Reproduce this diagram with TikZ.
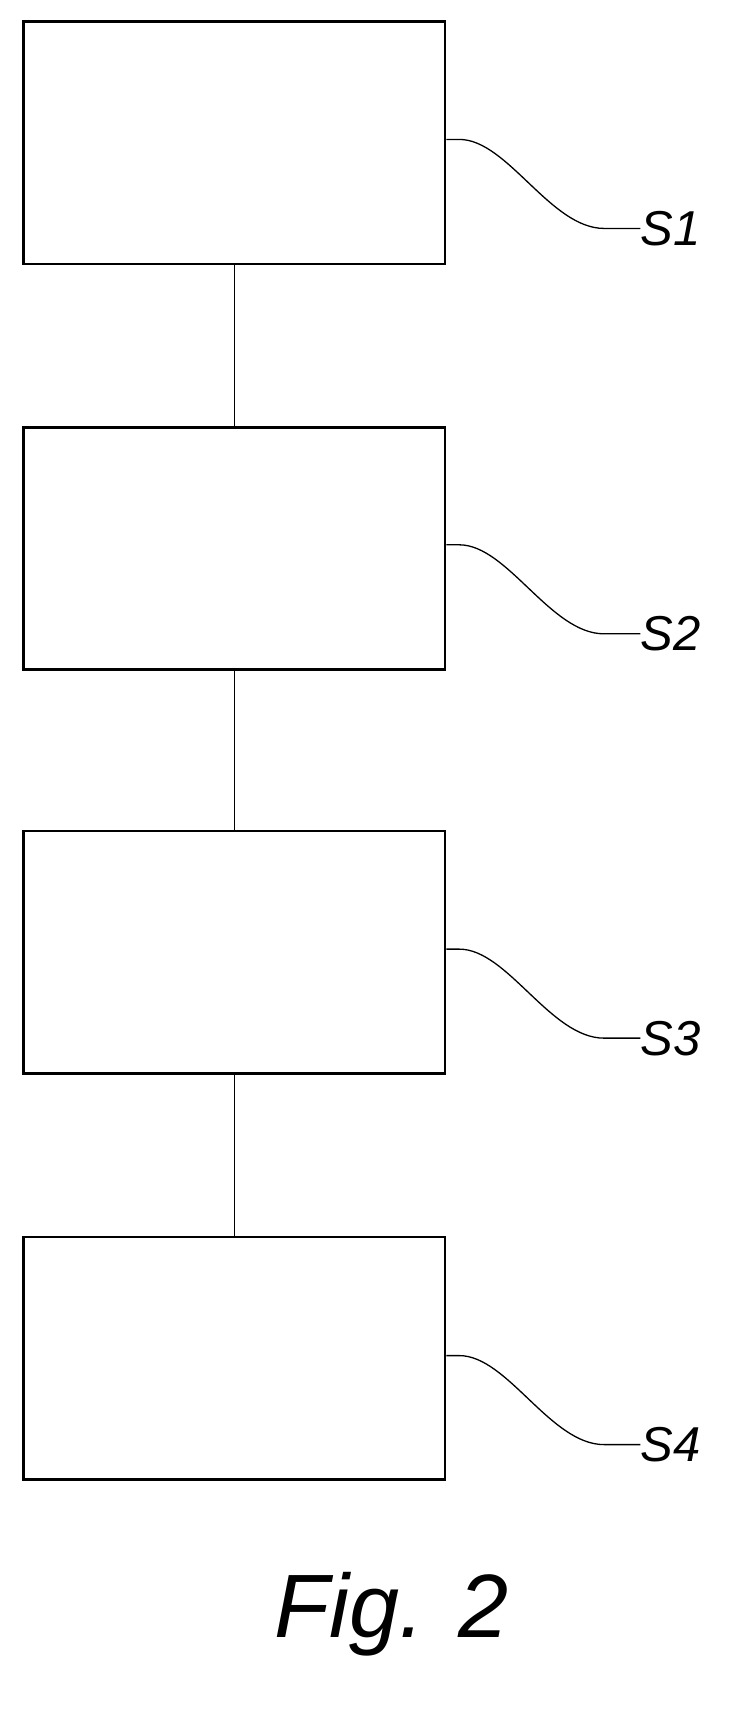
\documentclass[tikz,border=0pt]{standalone}
\usepackage{fontspec}
\setmainfont{Liberation Sans}
\begin{document}
\begin{tikzpicture}[x=1.0725pt,y=-1.0725pt,
  stepbox/.style={draw,line width=2.7pt,minimum width=421.5pt,minimum height=242.5pt,inner sep=0pt},
  lead/.style={line width=1.3pt},
  lbl/.style={font=\fontsize{49}{54}\selectfont\itshape,anchor=west,inner sep=0pt}]
\useasboundingbox (0,0) rectangle (690,1601);
\node[stepbox] (b1) at (218.5,133) {};
\node[stepbox] (b2) at (218.5,511.5) {};
\node[stepbox] (b3) at (218.5,888) {};
\node[stepbox] (b4) at (218.5,1266.5) {};
\draw[line width=1.3pt] (b1.south) -- (b2.north);
\draw[line width=1.3pt] (b2.south) -- (b3.north);
\draw[line width=1.3pt] (b3.south) -- (b4.north);
\foreach \b/\y/\t in {b1/130/S1,b2/508/S2,b3/885/S3,b4/1264/S4}{
  \node[lbl] (l\t) at (597,\y+83) {\t};
  \coordinate (c\t) at (\b.east |- 0,\y);
  \draw[lead] (c\t) -- ++(12,0) .. controls ++(45,0) and ++(-50,0) .. ++(135,83) -- (l\t.west);
}
\node[font=\fontsize{90}{96}\selectfont\itshape] (fig) at (365,1505) {Fig. 2};
\end{tikzpicture}
\end{document}
